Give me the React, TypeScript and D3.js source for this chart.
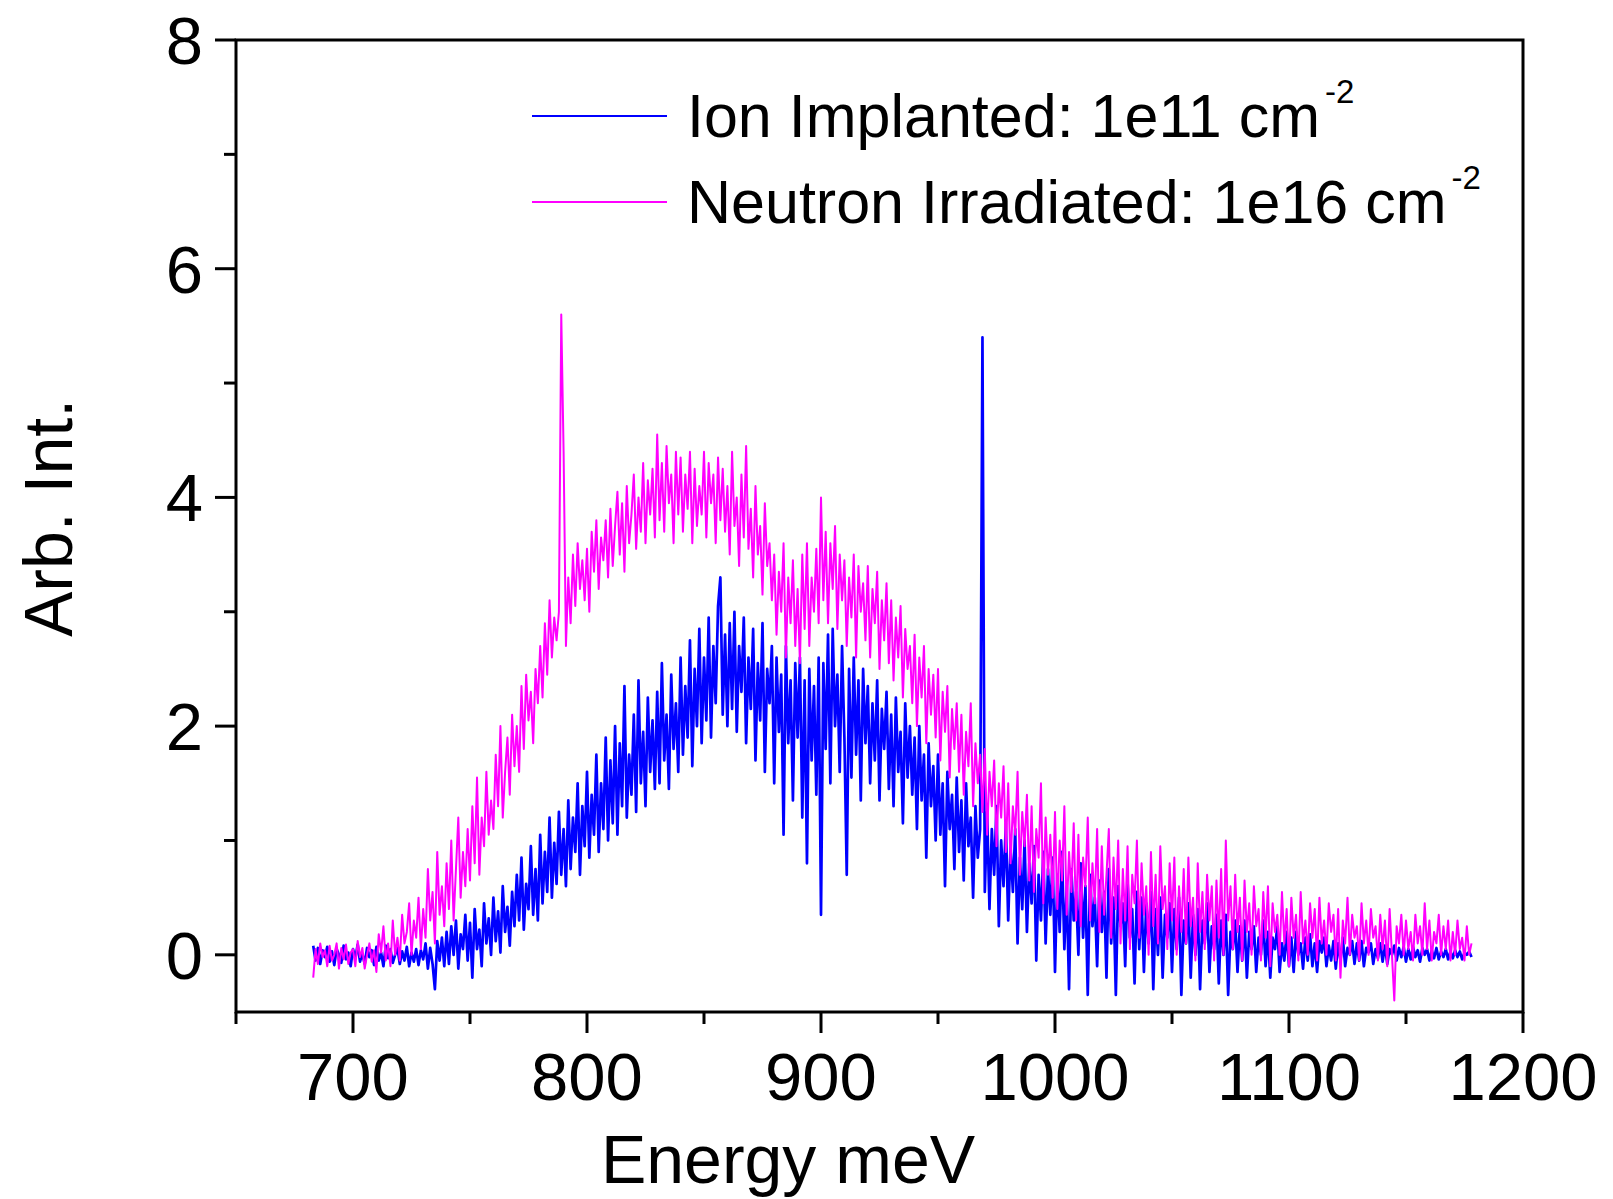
import React from "react";
import * as d3 from "d3";

// ---- Data ----
// Ion Implanted: 1e11 cm^-2, sampled every 1 meV starting at 683 meV
const ionStart = 683;
const ionStep = 1;
const ionImplantedA = [
  0.08, -0.05, 0.06, -0.08, 0.04, -0.02, 0.07,
  -0.06, 0.03, -0.09, 0.05, 0.0, -0.07, 0.08, -0.04, 0.02, -0.1,
  0.05, -0.03, 0.09, -0.06, 0.01, -0.08, 0.06, -0.02, 0.04, -0.09,
  0.07, -0.05, 0.02, -0.1, 0.08, -0.03, 0.05, -0.07, 0.0, 0.06,
  -0.08, 0.03, -0.05, 0.07, -0.1, 0.02, -0.06, 0.05, -0.09, 0.04,
  -0.04, 0.1, -0.12, 0.06, -0.08, -0.3, 0.12, -0.05, 0.15, -0.1,
  0.2, -0.08, 0.25, 0.0, 0.3, -0.12, 0.18, 0.05, 0.35, -0.05,
  0.28, -0.2, 0.4, 0.05, 0.22, -0.1, 0.45, 0.1, 0.32, 0.0,
  0.5, 0.12, 0.38, 0.02, 0.6, 0.2, 0.42, 0.08, 0.55, 0.25,
  0.7, 0.3, 0.85, 0.22, 0.62, 0.4, 0.95, 0.35, 0.75, 0.3,
  1.05, 0.45, 0.9, 0.55, 1.2, 0.5, 0.98, 0.62, 1.25, 0.7,
  1.1, 0.6, 1.35, 0.75, 1.2, 0.9, 1.5, 0.7, 1.3, 0.95,
];
const ionImplantedB = [
  1.6, 0.85, 1.4, 1.05, 1.75, 0.9, 1.5, 1.1, 1.9, 1.0,
  1.7, 1.15, 2.0, 1.05, 1.85, 1.3, 2.35, 1.2, 1.75, 1.4,
  2.1, 1.25, 2.4, 1.5, 1.95, 1.3, 2.25, 1.6, 2.05, 1.45,
  2.3, 1.5, 2.55, 1.7, 2.1, 1.45, 2.45, 1.8, 2.2, 1.6,
  2.6, 1.75, 2.35, 1.9, 2.75, 1.65, 2.5, 2.0, 2.85, 1.85,
  2.6, 2.05, 2.95, 1.9, 2.7, 2.2, 3.05, 3.3, 2.1, 2.8,
  2.0, 2.9, 2.15, 3.0, 1.95, 2.7, 2.3, 2.95, 1.85, 2.6,
  2.15, 2.85, 1.7, 2.55, 2.05, 2.9, 1.6, 2.5, 2.2, 2.7,
  1.5, 2.6, 1.95, 2.45, 1.05, 2.7, 1.85, 2.4, 1.35, 2.55,
  1.9, 2.6, 1.2, 2.4, 0.8, 2.5, 1.7, 2.35, 1.4, 2.6,
  0.35, 2.55, 1.8, 2.8, 1.5, 2.85, 2.0, 2.45, 1.6, 2.7,
  1.9, 0.7, 2.5, 1.55, 2.6, 1.75, 2.4, 1.35, 2.5, 1.85,
  2.35, 1.5, 2.2, 1.7, 2.4, 1.35, 2.15, 1.8, 2.3, 1.45,
  2.1, 1.3, 2.25, 1.6, 1.95, 1.15, 2.2, 1.55, 2.0, 1.4,
  1.9, 1.1, 2.0, 1.35, 1.75, 0.85, 1.85, 1.3, 1.65, 1.0,
  1.75, 1.05, 1.5, 0.6, 1.6, 1.1, 1.4, 0.75, 1.55, 0.9,
  1.35, 0.65, 1.5, 0.95, 1.2, 0.5, 1.3, 0.85, 1.1, 5.4,
];
const ionImplantedC = [
  0.55, 1.25, 0.4, 1.1, 0.7, 1.3, 0.25, 1.0, 0.6, 1.15,
  0.3, 0.95, 0.55, 1.1, 0.1, 0.85, 0.4, 1.0, 0.2, 0.8,
  0.45, 0.95, -0.05, 0.7, 0.3, 0.9, 0.1, 0.75, 0.35, 0.85,
  -0.15, 0.7, 0.2, 0.9, 0.05, 0.6, -0.3, 0.75, 0.3, 0.55,
  0.0, 0.8, 0.15, 0.6, -0.35, 0.7, 0.25, 0.5, -0.1, 0.65,
  0.2, 0.55, -0.2, 0.75, 0.1, 0.5, -0.35, 0.6, 0.25, 0.45,
  -0.1, 0.65, 0.15, 0.4, -0.25, 0.55, 0.05, 0.5, -0.15, 0.45,
  0.1, 0.55, -0.3, 0.4, 0.0, 0.5, -0.2, 0.35, 0.15, 0.45,
  -0.15, 0.4, 0.05, 0.5, -0.35, 0.3, 0.1, 0.45, -0.2, 0.35,
  0.0, 0.4, -0.3, 0.3, 0.1, 0.45, -0.15, 0.25, 0.05, 0.35,
  -0.25, 0.3, 0.0, 0.35, -0.35, 0.2, 0.05, 0.3, -0.15, 0.25,
  -0.05, 0.3, -0.2, 0.2, 0.05, 0.25, -0.15, 0.15, 0.0, 0.3,
  -0.1, 0.2, -0.2, 0.15, 0.05, 0.25, -0.15, 0.1, -0.05, 0.2,
  -0.1, 0.15, -0.15, 0.2, 0.0, 0.1, -0.12, 0.15, -0.05, 0.18,
  -0.1, 0.1, -0.15, 0.12, 0.02, 0.15, -0.1, 0.08, -0.05, 0.12,
  -0.12, 0.1, -0.05, 0.15, -0.1, 0.06, 0.0, 0.12, -0.08, 0.1,
  -0.05, 0.12, -0.1, 0.06, 0.02, 0.1, -0.08, 0.05, -0.03, 0.1,
  -0.06, 0.08, -0.08, 0.05, 0.0, 0.08, -0.05, 0.06, -0.02, 0.07,
  -0.06, 0.05, -0.04, 0.07, -0.02, 0.04, -0.06, 0.06, 0.0, 0.05,
  -0.05, 0.04, -0.03, 0.06, -0.04, 0.03, -0.02, 0.05, -0.04, 0.03,
  -0.03, 0.04, -0.02, 0.03, -0.04, 0.02, 0.0, 0.03, -0.02,
];

// Neutron Irradiated: 1e16 cm^-2, sampled every 1 meV starting at 683 meV
const neutronStart = 683;
const neutronStep = 1;
const neutronA = [
  -0.2, 0.05, -0.08, 0.1, -0.02, 0.04, -0.1,
  0.08, -0.05, 0.0, 0.1, -0.12, 0.06, -0.04, 0.09, -0.08, 0.02,
  0.05, -0.1, 0.12, -0.02, 0.06, -0.12, 0.0, 0.1, -0.06, 0.04,
  -0.15, 0.18, 0.02, 0.25, -0.05, 0.1, -0.1, 0.3, 0.0, 0.15,
  -0.05, 0.35, 0.1, 0.2, 0.45, 0.0, 0.3, 0.15, 0.5, 0.05,
  0.4, 0.15, 0.75, 0.3, 0.55, 0.1, 0.9, 0.35, 0.6, 0.25,
  0.8, 0.4, 1.0, 0.3, 0.75, 1.2, 0.5, 0.9, 0.6, 1.1,
  0.65, 1.3, 0.8, 1.55, 0.7, 1.2, 0.95, 1.6, 1.05, 1.35,
  1.1, 1.75, 1.3, 2.0, 1.2, 1.6, 1.9, 1.4, 2.1, 1.65,
  2.0, 1.6, 2.35, 1.8, 2.45, 2.05, 2.3, 1.85, 2.5, 2.2,
  2.7, 2.25, 2.9, 2.45, 3.1, 2.6, 2.95, 2.75, 3.0, 5.6,
  4.4, 2.7, 3.3, 2.9, 3.5, 3.05, 3.6, 3.2, 3.45, 3.1,
];
const neutronB = [
  3.55, 3.0, 3.7, 3.35, 3.8, 3.2, 3.65, 3.45, 3.8, 3.3,
  3.9, 3.4, 3.75, 4.05, 3.5, 3.95, 3.35, 4.1, 3.6, 3.85,
  4.2, 3.55, 4.0, 3.7, 4.3, 3.6, 4.15, 3.85, 4.25, 3.65,
  4.55, 3.8, 4.3, 3.7, 4.45, 3.95, 4.2, 3.6, 4.4, 3.85,
  4.35, 3.7, 4.2, 3.9, 4.4, 3.6, 4.25, 3.75, 4.1, 3.85,
  4.4, 3.65, 4.3, 3.95, 4.2, 3.6, 4.35, 3.8, 4.25, 3.7,
  4.1, 3.5, 4.4, 3.75, 4.0, 3.4, 4.2, 3.65, 4.45, 3.55,
  3.9, 3.3, 4.1, 3.5, 3.75, 3.15, 3.95, 3.4, 3.6, 3.1,
  3.5, 2.8, 3.35, 3.0, 3.6, 2.6, 3.3, 2.9, 3.45, 2.7,
  3.2, 2.55, 3.5, 2.85, 3.6, 2.7, 3.3, 3.0, 3.55, 2.9,
  4.0, 3.1, 3.7, 2.9, 3.6, 3.2, 3.75, 2.85, 3.5, 3.1,
  3.45, 2.7, 3.3, 2.95, 3.5, 2.6, 3.4, 3.0, 3.25, 2.75,
  3.4, 2.6, 3.2, 2.9, 3.35, 2.5, 3.1, 2.75, 3.25, 2.55,
  3.1, 2.4, 2.95, 2.6, 3.05, 2.25, 2.85, 2.5, 2.7, 2.2,
  2.8, 2.0, 2.6, 2.25, 2.7, 1.85, 2.5, 2.1, 2.45, 1.9,
  2.5, 1.7, 2.3, 1.95, 2.35, 1.55, 2.15, 1.8, 2.2, 1.6,
  2.1, 1.4, 1.95, 1.65, 2.2, 1.3, 1.85, 1.5, 1.75, 1.25,
];
const neutronC = [
  1.8, 1.05, 1.6, 1.3, 1.7, 0.95, 1.5, 1.2, 1.65, 0.9,
  1.5, 0.8, 1.3, 1.05, 1.6, 0.7, 1.25, 0.95, 1.4, 0.65,
  1.3, 0.55, 1.1, 0.85, 1.5, 0.45, 1.2, 0.7, 1.05, 0.5,
  1.25, 0.4, 1.0, 0.65, 1.3, 0.35, 0.9, 0.55, 1.15, 0.3,
  1.05, 0.25, 0.85, 0.6, 1.2, 0.3, 0.8, 0.45, 1.1, 0.2,
  0.95, 0.35, 0.7, 1.1, 0.15, 0.85, 0.4, 1.0, 0.1, 0.75,
  0.3, 0.95, 0.05, 0.7, 0.45, 1.0, 0.15, 0.8, 0.35, 0.6,
  0.0, 0.9, 0.25, 0.7, 0.1, 0.95, 0.4, 0.6, 0.05, 0.8,
  0.3, 0.85, 0.0, 0.6, 0.2, 0.75, 0.1, 0.85, 0.25, 0.5,
  -0.05, 0.8, 0.2, 0.55, 0.05, 0.7, 0.3, 0.6, -0.05, 0.65,
  0.15, 0.75, 0.0, 1.0, 0.3, 0.6, 0.05, 0.7, 0.2, 0.5,
  -0.05, 0.65, 0.2, 0.45, 0.0, 0.6, 0.25, 0.4, -0.05, 0.55,
  0.15, 0.6, -0.1, 0.45, 0.2, 0.35, 0.0, 0.55, 0.1, 0.4,
  -0.1, 0.5, 0.15, 0.35, -0.05, 0.55, 0.1, 0.3, 0.0, 0.45,
  0.15, 0.4, -0.05, 0.5, 0.1, 0.3, 0.0, 0.45, 0.2, 0.35,
  -0.05, 0.4, -0.2, 0.3, 0.1, 0.5, 0.0, 0.35, 0.15, 0.25,
  -0.05, 0.45, 0.1, 0.3, 0.0, 0.4, 0.15, 0.25, -0.05, 0.35,
  0.05, 0.3, -0.1, 0.4, 0.0, -0.4, 0.25, 0.1, 0.35, 0.0,
  0.3, 0.05, 0.2, -0.05, 0.35, 0.1, 0.25, 0.0, 0.45, 0.05,
  0.3, -0.05, 0.2, 0.1, 0.35, 0.0, 0.25, 0.05, 0.3, -0.05,
  0.2, 0.0, 0.3, 0.05, 0.15, -0.05, 0.25, 0.0, 0.1,
];

const xMajorTicks = [700, 800, 900, 1000, 1100, 1200];
const xMinorTicks = [650, 750, 850, 950, 1050, 1150];
const yMajorTicks = [0, 2, 4, 6, 8];
const yMinorTicks = [1, 3, 5, 7];

const legendItems = [
  { label: "Ion Implanted: 1e11 cm", sup: "-2", color: "#0000ff" },
  { label: "Neutron Irradiated: 1e16 cm", sup: "-2", color: "#ff00ff" },
];

const FONT = "'Liberation Sans', Arimo, Arial, Helvetica, sans-serif";

export default function App() {
  const left = 236, right = 1523, top = 40, bottom = 1012;
  const x = d3.scaleLinear().domain([650, 1200]).range([left, right]);
  const y = d3.scaleLinear().domain([-0.5, 8]).range([bottom, top]);

  const ionValues = [...ionImplantedA, ...ionImplantedB, ...ionImplantedC];
  const neutronValues = [...neutronA, ...neutronB, ...neutronC];
  const ionPts: [number, number][] = ionValues.map((v, i) => [ionStart + i * ionStep, v]);
  const neuPts: [number, number][] = neutronValues.map((v, i) => [neutronStart + i * neutronStep, v]);

  const line = d3
    .line<[number, number]>()
    .x((d) => x(d[0]))
    .y((d) => y(d[1]));

  const axisColor = "#000";
  const sw = 3;

  return (
    <svg
      width={1613}
      height={1199}
      style={{ position: "absolute", left: 0, top: 0, background: "#fff" }}
      fontFamily={FONT}
    >
      <rect x={0} y={0} width={1613} height={1199} fill="#fff" />
      {/* data */}
      <path d={line(ionPts) || ""} fill="none" stroke="#0000ff" strokeWidth={2.7} strokeLinejoin="round" />
      <path d={line(neuPts) || ""} fill="none" stroke="#ff00ff" strokeWidth={2.0} strokeLinejoin="round" />

      {/* frame */}
      <rect x={left} y={top} width={right - left} height={bottom - top} fill="none" stroke={axisColor} strokeWidth={sw} />

      {/* x ticks */}
      {xMajorTicks.map((t) => (
        <g key={"xM" + t}>
          <line x1={x(t)} x2={x(t)} y1={bottom} y2={bottom + 21} stroke={axisColor} strokeWidth={sw} />
          <text x={x(t)} y={1100} fontSize={67} textAnchor="middle" fill="#000">
            {t}
          </text>
        </g>
      ))}
      {xMinorTicks.map((t) => (
        <line key={"xm" + t} x1={x(t)} x2={x(t)} y1={bottom} y2={bottom + 12} stroke={axisColor} strokeWidth={sw} />
      ))}

      {/* y ticks */}
      {yMajorTicks.map((t) => (
        <g key={"yM" + t}>
          <line x1={left - 21} x2={left} y1={y(t)} y2={y(t)} stroke={axisColor} strokeWidth={sw} />
          <text x={203} y={y(t) + 24} fontSize={67} textAnchor="end" fill="#000">
            {t}
          </text>
        </g>
      ))}
      {yMinorTicks.map((t) => (
        <line key={"ym" + t} x1={left - 12} x2={left} y1={y(t)} y2={y(t)} stroke={axisColor} strokeWidth={sw} />
      ))}

      {/* axis titles */}
      <text x={788} y={1183} fontSize={68} textAnchor="middle" fill="#000">
        Energy meV
      </text>
      <text transform="translate(72,518) rotate(-90)" fontSize={68} textAnchor="middle" fill="#000">
        Arb. Int.
      </text>

      {/* legend */}
      {legendItems.map((it, i) => {
        const ly = 116 + i * 86;
        return (
          <g key={it.label}>
            <line x1={532} x2={667} y1={ly} y2={ly} stroke={it.color} strokeWidth={2} />
            <text x={687} y={ly + 21} fontSize={61} fill="#000">
              {it.label}
              <tspan dx={5} dy={-34} fontSize={33}>
                {it.sup}
              </tspan>
            </text>
          </g>
        );
      })}
    </svg>
  );
}
